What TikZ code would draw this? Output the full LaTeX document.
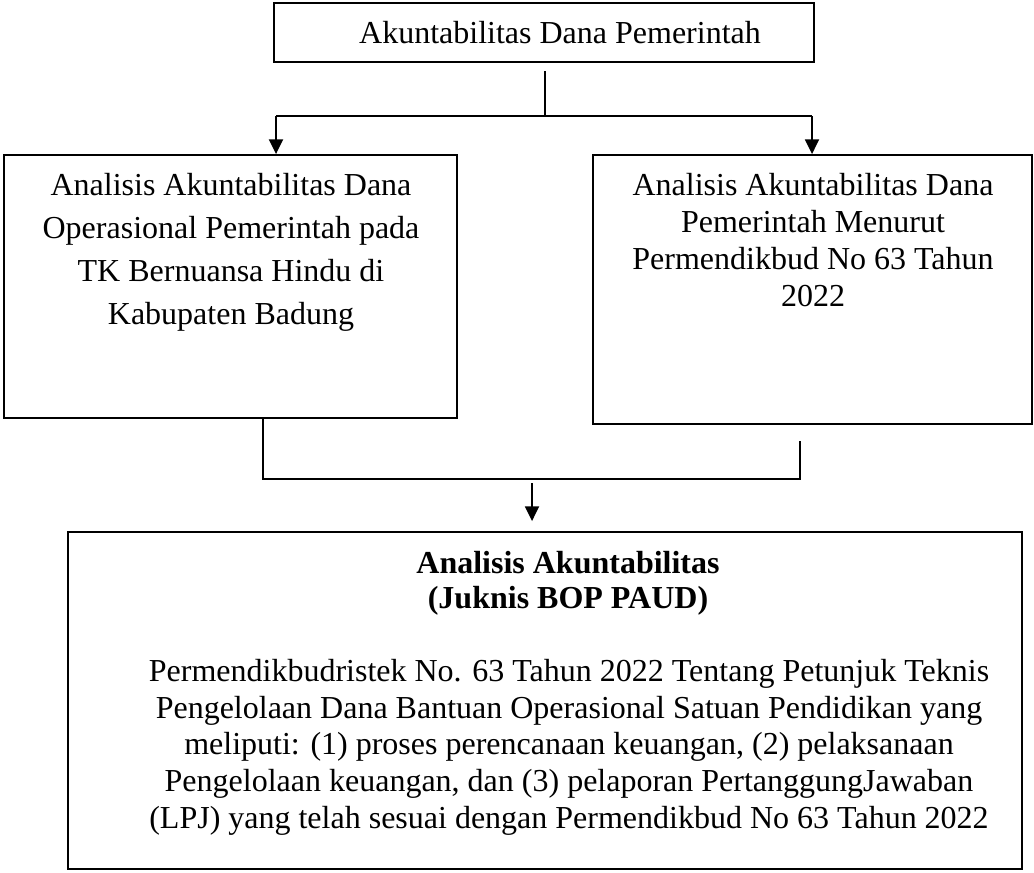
\documentclass[tikz,border=0pt]{standalone}
\usepackage{fontspec}
\setmainfont{Liberation Serif}
\usetikzlibrary{arrows.meta}
\tikzset{
  box/.style={draw, line width=1.4pt, inner sep=0pt},
  line/.style={line width=1.4pt},
  arr/.style={line width=1.4pt, -{Triangle[length=11pt,width=10.5pt]}},
  txt/.style={align=center, inner sep=0pt, anchor=base}
}
\begin{document}
\begin{tikzpicture}[x=0.75pt,y=-0.75pt]
    \useasboundingbox (0,0) rectangle (1034,872);
    \node[box, minimum width=405pt, minimum height=43.8pt] (dana) at (544,32.5) {};
    \node[box, minimum width=339.75pt, minimum height=197.25pt] (opr) at (230.5,286.5) {};
    \node[box, minimum width=329.25pt, minimum height=201.75pt] (permen) at (812.5,289.5) {};
    \node[box, minimum width=715.5pt, minimum height=252.75pt] (juknis) at (545,700.5) {};

    \node[txt, font=\fontsize{24pt}{29pt}\selectfont] (danatxt) at (560,43) {Akuntabilitas Dana Pemerintah};
    \node[txt, font=\fontsize{24pt}{32.25pt}\selectfont] (oprtxt) at (231,324)
        {Analisis Akuntabilitas Dana\\Operasional Pemerintah pada\\TK Bernuansa Hindu di\\Kabupaten Badung};
    \node[txt, font=\fontsize{24pt}{27.75pt}\selectfont] (permentxt) at (813,306)
        {Analisis Akuntabilitas Dana\\Pemerintah Menurut\\Permendikbud No 63 Tahun\\2022};
    \node[txt, font=\fontsize{24pt}{26.25pt}\selectfont\bfseries] (juknistitle) at (568,608)
        {Analisis Akuntabilitas\\(Juknis BOP PAUD)};
    \node[txt, font=\fontsize{24pt}{27.4pt}\selectfont] (juknistxt) at (569,828)
        {Permendikbudristek No. 63 Tahun 2022 Tentang Petunjuk Teknis\\
         Pengelolaan Dana Bantuan Operasional Satuan Pendidikan yang\\
         meliputi: (1) proses perencanaan keuangan, (2) pelaksanaan\\
         Pengelolaan keuangan, dan (3) pelaporan PertanggungJawaban\\
         (LPJ) yang telah sesuai dengan Permendikbud No 63 Tahun 2022};

    \coordinate (stem) at (545,71);
    \coordinate (split) at (545,116);
    \coordinate (la) at (276,116);
    \coordinate (ra) at (812,116);
    \draw[line] (stem) -- (split);
    \draw[line] (la) -- (ra);
    \draw[arr] (la) -- (la |- opr.north);
    \draw[arr] (ra) -- (ra |- permen.north);

    \coordinate (lb) at (263,479);
    \coordinate (rb) at (800,479);
    \coordinate (rs) at (800,441);
    \coordinate (ba) at (532,483);
    \draw[line] (lb |- opr.south) -- (lb) -- (rb) -- (rs);
    \draw[arr, shorten >=7.5pt] (ba) -- (ba |- juknis.north);
\end{tikzpicture}
\end{document}
